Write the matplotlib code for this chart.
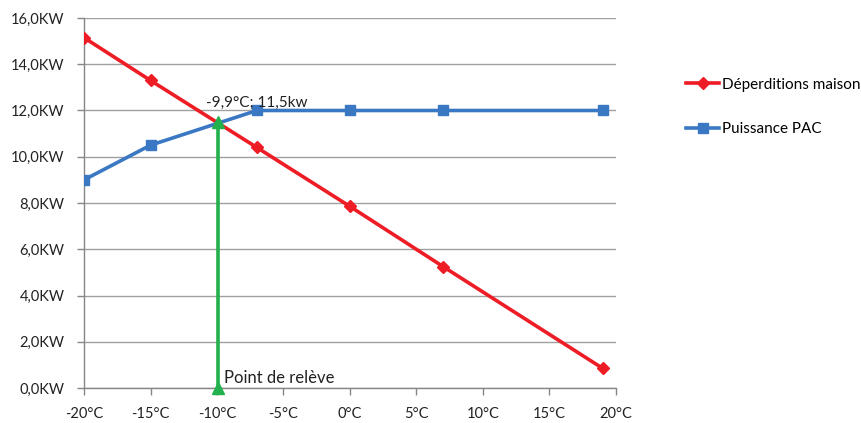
import numpy as np
import matplotlib
matplotlib.use("Agg")
import matplotlib.pyplot as plt
from matplotlib.ticker import FuncFormatter

plt.rcParams['font.family'] = ['Lato', 'DejaVu Sans']

############ Data ############
temp = [-20, -15, -7, 0, 7, 19]                      # °C
deperditions = [15.15, 13.3, 10.4, 7.85, 5.25, 0.85]  # kW
puissance_pac = [9.0, 10.5, 12.0, 12.0, 12.0, 12.0]   # kW

releve_x = [-9.9, -9.9]
releve_y = [0.0, 11.5]

x_ticks = [-20, -15, -10, -5, 0, 5, 10, 15, 20]
y_ticks = [0, 2, 4, 6, 8, 10, 12, 14, 16]

############ Plot ############
fig = plt.figure(figsize=(8.62, 4.23), dpi=100)
ax = fig.add_axes([84 / 862, 1 - 388 / 423, (616 - 84) / 862, (388 - 18) / 423])

ax.plot(temp, deperditions, color="#ee1c25", lw=2.6, marker="D", ms=6.5,
        label="Déperditions maison", zorder=3)
ax.plot(temp, puissance_pac, color="#3a78c3", lw=2.6, marker="s", ms=7.5,
        label="Puissance PAC", zorder=3)
ax.plot(releve_x, releve_y, color="#22b14c", lw=2.6, marker="^", ms=8,
        zorder=4, clip_on=False)

ax.text(-10.85, 12.15, "-9,9°C; 11,5kw", fontsize=11, color="#222222", va="baseline", zorder=5)
ax.text(-9.45, 0.22, "Point de relève", fontsize=12, color="#222222", va="baseline")

ax.set_xlim(-20, 20)
ax.set_ylim(0, 16)
ax.set_xticks(x_ticks)
ax.set_yticks(y_ticks)
ax.xaxis.set_major_formatter(FuncFormatter(lambda v, p: "%d°C" % v))
ax.yaxis.set_major_formatter(FuncFormatter(lambda v, p: ("%.1fKW" % v).replace(".", ",")))
ax.tick_params(axis="both", labelsize=10.5, colors="#222222", length=5, width=1,
               direction="out", color="#868686")
ax.tick_params(axis="x", pad=9)
ax.tick_params(axis="y", pad=9)

ax.grid(axis="y", color="#a0a0a0", lw=1)
ax.set_axisbelow(True)
for s in ["top", "right"]:
    ax.spines[s].set_visible(False)
for s in ["left", "bottom"]:
    ax.spines[s].set_color("#868686")
    ax.spines[s].set_linewidth(1)

ax.legend(loc="upper left", bbox_to_anchor=(672 / 862, 1 - 64 / 423),
          bbox_transform=fig.transFigure, frameon=False, fontsize=11,
          handlelength=2.2, labelspacing=2.0, handletextpad=0.2)

plt.savefig("out.png", dpi=100)
